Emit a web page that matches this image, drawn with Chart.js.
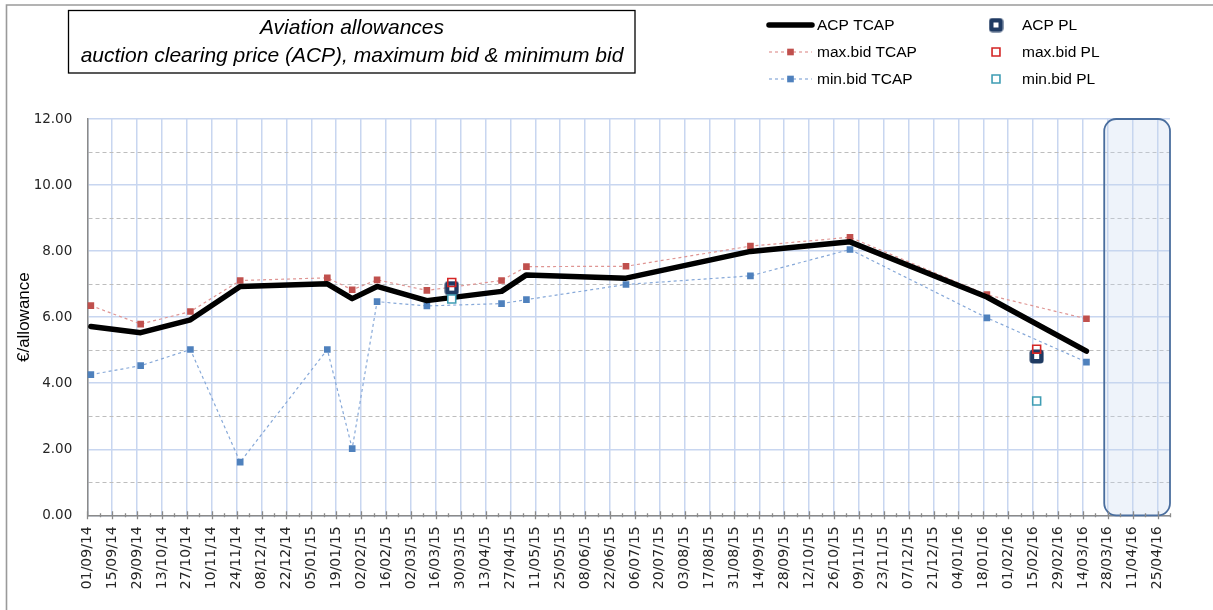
<!DOCTYPE html>
<html>
<head>
<meta charset="utf-8">
<script src="https://cdn.jsdelivr.net/npm/chart.js@4.4.1/dist/chart.umd.min.js"></script>
<style>
  html, body { margin: 0; padding: 0; background: #ffffff; }
  #wrap { width: 1213px; height: 610px; position: relative; }
</style>
</head>
<body>
<div id="wrap"><canvas id="c" width="1213" height="610"></canvas></div>
<script>
// ---------------- DATA ----------------
const chartTitle = ['Aviation allowances', 'auction clearing price (ACP), maximum bid & minimum bid'];
const yAxisTitle = '€/allowance';

const axisStart = '01/09/14';
const axisEnd = '02/05/16';

const tickLabels = ['01/09/14','15/09/14','29/09/14','13/10/14','27/10/14','10/11/14','24/11/14','08/12/14','22/12/14',
  '05/01/15','19/01/15','02/02/15','16/02/15','02/03/15','16/03/15','30/03/15','13/04/15','27/04/15','11/05/15',
  '25/05/15','08/06/15','22/06/15','06/07/15','20/07/15','03/08/15','17/08/15','31/08/15','14/09/15','28/09/15',
  '12/10/15','26/10/15','09/11/15','23/11/15','07/12/15','21/12/15','04/01/16','18/01/16','01/02/16','15/02/16',
  '29/02/16','14/03/16','28/03/16','11/04/16','25/04/16'];

const tcapDates = ['03/09/14','01/10/14','29/10/14','26/11/14','14/01/15','28/01/15','11/02/15','11/03/15',
  '22/04/15','06/05/15','01/07/15','09/09/15','04/11/15','20/01/16','16/03/16'];
const acpTcap = [5.72, 5.53, 5.92, 6.93, 7.01, 6.56, 6.93, 6.50, 6.78, 7.28, 7.18, 7.99, 8.28, 6.61, 4.97];
const maxTcap = [6.35, 5.79, 6.17, 7.11, 7.19, 6.83, 7.13, 6.81, 7.11, 7.53, 7.54, 8.15, 8.42, 6.68, 5.95];
const minTcap = [4.26, 4.53, 5.02, 1.61, 5.02, 2.02, 6.47, 6.34, 6.41, 6.53, 6.99, 7.25, 8.05, 5.98, 4.64];

const plDates = ['25/03/15', '17/02/16'];
const acpPl = [6.88, 4.81];
const maxPl = [7.05, 5.03];
const minPl = [6.55, 3.46];

const shadeRange = ['26/03/16', '02/05/16'];
const yMin = 0, yMax = 12;

// ---------------- HELPERS ----------------
function toUTC(s) {
  const p = s.split('/').map(Number);
  return Date.UTC(2000 + p[2], p[1] - 1, p[0]);
}
const startMs = toUTC(axisStart);
function dayOf(s) { return Math.round((toUTC(s) - startMs) / 86400000); }
function pts(dates, vals) { return dates.map((d, i) => ({ x: dayOf(d), y: vals[i] })); }

const tickDays = tickLabels.map(dayOf);
const labelByDay = {};
tickLabels.forEach((l, i) => { labelByDay[tickDays[i]] = l; });

// ---------------- STYLES ----------------
const RED = '#c0504d', BLUE = '#4f81bd', NAVY = '#1f3a62', PLRED = '#d42525', TEAL = '#3f9db4';
const GRID_BLUE = '#c8d6f0', GRID_GRAY = '#bdbdbd', AXIS_GRAY = '#8a8a8a';

// ACP PL marker: navy rounded square with a small white centre
const plMarker = (function () {
  const c = document.createElement('canvas');
  c.width = 15; c.height = 15;
  const g = c.getContext('2d');
  g.beginPath();
  g.roundRect(0.5, 0.5, 14, 14, 3.5);
  g.fillStyle = NAVY;
  g.fill();
  g.fillStyle = '#ffffff';
  g.fillRect(5, 5, 5, 5);
  return c;
})();

// ---------------- PLUGINS ----------------
const decor = {
  id: 'decor',
  beforeDraw(chart) {
    const ctx = chart.ctx;
    ctx.save();
    ctx.fillStyle = '#ffffff';
    ctx.fillRect(0, 0, chart.width, chart.height);
    ctx.strokeStyle = '#9a9a9a';
    ctx.lineWidth = 1.6;
    ctx.beginPath();
    ctx.moveTo(6.5, chart.height + 2);
    ctx.lineTo(6.5, 5);
    ctx.lineTo(chart.width + 2, 5);
    ctx.stroke();
    ctx.fillStyle = '#ffffff';
    ctx.fillRect(68, 10, 567, 63);
    ctx.strokeStyle = '#000000';
    ctx.lineWidth = 1.3;
    ctx.strokeRect(68.5, 10.5, 566.5, 62.5);
    ctx.fillStyle = '#000000';
    ctx.font = 'italic 21px "Liberation Sans", Arial, sans-serif';
    ctx.textAlign = 'center';
    ctx.textBaseline = 'middle';
    ctx.fillText(chartTitle[0], 352, 28);
    ctx.fillText(chartTitle[1], 352, 56);
    ctx.restore();
    drawLegend(chart);
  },
  beforeDatasetsDraw(chart) {
    const ctx = chart.ctx;
    const xs = chart.scales.x, ys = chart.scales.y;
    const x1 = xs.getPixelForValue(dayOf(shadeRange[0]));
    const x2 = xs.getPixelForValue(dayOf(shadeRange[1]));
    const y1 = ys.getPixelForValue(yMax);
    const y2 = ys.getPixelForValue(yMin);
    ctx.save();
    ctx.beginPath();
    ctx.roundRect(x1, y1, x2 - x1, y2 - y1, 12);
    ctx.fillStyle = 'rgba(200,215,240,0.3)';
    ctx.fill();
    ctx.strokeStyle = '#4a6e9e';
    ctx.lineWidth = 1.8;
    ctx.stroke();
    ctx.restore();
  },
  afterDraw(chart) {
    const ctx = chart.ctx;
    const xs = chart.scales.x;
    const yb = chart.chartArea.bottom;
    ctx.save();
    ctx.strokeStyle = AXIS_GRAY;
    ctx.lineWidth = 1.3;
    ctx.beginPath();
    for (let d = xs.min; d <= xs.max; d += 7) {
      const x = Math.round(xs.getPixelForValue(d)) + 0.5;
      const len = (d % 14 === 0) ? 4 : 2;
      ctx.moveTo(x, yb - len);
      ctx.lineTo(x, yb + len);
    }
    ctx.stroke();
    ctx.restore();
  }
};

function drawMarker(ctx, ds, x, y) {
  const style = ds.pointStyle;
  const r = ds.pointRadius;
  ctx.save();
  if (style instanceof HTMLCanvasElement) {
    ctx.drawImage(style, x - style.width / 2, y - style.height / 2);
  } else {
    const h = r * Math.SQRT1_2;
    ctx.beginPath();
    ctx.rect(x - h, y - h, 2 * h, 2 * h);
    if (ds.pointBackgroundColor && ds.pointBackgroundColor !== 'transparent') {
      ctx.fillStyle = ds.pointBackgroundColor;
      ctx.fill();
    }
    if (ds.pointBorderWidth > 0) {
      ctx.lineWidth = ds.pointBorderWidth;
      ctx.strokeStyle = ds.pointBorderColor;
      ctx.stroke();
    }
  }
  ctx.restore();
}

function drawLegend(chart) {
  const ctx = chart.ctx;
  const dsets = chart.data.datasets;
  const find = (lbl) => dsets.find(d => d.label === lbl);
  const rowsY = [25, 52, 79];
  const col1 = ['ACP TCAP', 'max.bid TCAP', 'min.bid TCAP'];
  const col2 = ['ACP PL', 'max.bid PL', 'min.bid PL'];
  ctx.save();
  ctx.font = '15.5px "Liberation Sans", Arial, sans-serif';
  ctx.textBaseline = 'middle';
  ctx.textAlign = 'left';
  col1.forEach((lbl, i) => {
    const ds = find(lbl);
    const y = rowsY[i];
    ctx.save();
    ctx.strokeStyle = ds.borderColor;
    ctx.lineWidth = ds.borderWidth;
    ctx.lineCap = i === 0 ? 'round' : 'butt';
    ctx.setLineDash(ds.borderDash || []);
    ctx.beginPath();
    ctx.moveTo(769, y);
    ctx.lineTo(812, y);
    ctx.stroke();
    ctx.restore();
    if (ds.pointRadius > 0) drawMarker(ctx, ds, 790.5, y);
    ctx.fillStyle = '#000';
    ctx.fillText(lbl, 817, y + 1);
  });
  col2.forEach((lbl, i) => {
    const ds = find(lbl);
    const y = rowsY[i];
    drawMarker(ctx, ds, 996, y);
    ctx.fillStyle = '#000';
    ctx.fillText(lbl, 1022, y + 1);
  });
  ctx.restore();
}

// ---------------- CHART ----------------
const datasets = [
  { label: 'max.bid PL', data: pts(plDates, maxPl), showLine: false, pointStyle: 'rect',
    pointRadius: 5.6, pointBackgroundColor: 'transparent', pointBorderColor: PLRED, pointBorderWidth: 1.6 },
  { label: 'min.bid PL', data: pts(plDates, minPl), showLine: false, pointStyle: 'rect',
    pointRadius: 5.6, pointBackgroundColor: '#ffffff', pointBorderColor: TEAL, pointBorderWidth: 1.6 },
  { label: 'ACP PL', data: pts(plDates, acpPl), showLine: false, pointStyle: plMarker,
    pointRadius: 7.5, pointBackgroundColor: NAVY, pointBorderColor: NAVY, pointBorderWidth: 0 },
  { label: 'ACP TCAP', data: pts(tcapDates, acpTcap), borderColor: '#000000', borderWidth: 5.5,
    borderJoinStyle: 'round', borderCapStyle: 'round', pointRadius: 0, tension: 0 },
  { label: 'max.bid TCAP', data: pts(tcapDates, maxTcap), borderColor: '#df9593', borderWidth: 1.2,
    borderDash: [3, 3], pointStyle: 'rect', pointRadius: 4.7, pointBackgroundColor: RED,
    pointBorderColor: RED, pointBorderWidth: 0, tension: 0 },
  { label: 'min.bid TCAP', data: pts(tcapDates, minTcap), borderColor: '#86a8d8', borderWidth: 1.2,
    borderDash: [3, 3], pointStyle: 'rect', pointRadius: 4.7, pointBackgroundColor: BLUE,
    pointBorderColor: BLUE, pointBorderWidth: 0, tension: 0 }
];

new Chart(document.getElementById('c'), {
  type: 'line',
  data: { datasets },
  options: {
    responsive: false,
    animation: false,
    events: [],
    layout: { padding: { top: 119, right: 43, bottom: 0, left: 0 } },
    plugins: { legend: { display: false }, tooltip: { enabled: false }, title: { display: false } },
    scales: {
      x: {
        type: 'linear',
        min: dayOf(axisStart),
        max: dayOf(axisEnd),
        afterBuildTicks(scale) { scale.ticks = tickDays.map(v => ({ value: v })); },
        afterFit(scale) { scale.height = 94.7; },
        ticks: {
          autoSkip: false, minRotation: 90, maxRotation: 90, padding: 11,
          color: '#262626',
          font: { family: '"DejaVu Sans", Verdana, sans-serif', size: 14 },
          callback: (v) => labelByDay[v] || ''
        },
        grid: { color: GRID_BLUE, lineWidth: 1.5, drawTicks: false },
        border: { display: true, color: AXIS_GRAY, width: 1.5 }
      },
      y: {
        min: yMin, max: yMax,
        afterBuildTicks(scale) {
          const t = [];
          for (let v = yMin; v <= yMax; v += 1) t.push({ value: v });
          scale.ticks = t;
        },
        afterFit(scale) { scale.width = 87.3; },
        ticks: {
          padding: 15, color: '#262626',
          font: { family: '"DejaVu Sans", Verdana, sans-serif', size: 13.5 },
          callback: (v) => (v % 2 === 0 ? v.toFixed(2) : '')
        },
        grid: {
          drawTicks: false,
          color: (c) => (c.tick && c.tick.value % 2 !== 0 ? GRID_GRAY : GRID_BLUE),
          lineWidth: (c) => (c.tick && c.tick.value % 2 !== 0 ? 1 : 1.5)
        },
        border: {
          display: true, color: AXIS_GRAY, width: 1.5,
          dash: (c) => (c.tick && c.tick.value % 2 !== 0 ? [4, 3] : [])
        },
        title: {
          display: true, text: yAxisTitle, color: '#000',
          font: { family: '"Liberation Sans", Arial, sans-serif', size: 17 },
          padding: { top: 14, bottom: 0 }
        }
      }
    }
  },
  plugins: [decor]
});
</script>
</body>
</html>
